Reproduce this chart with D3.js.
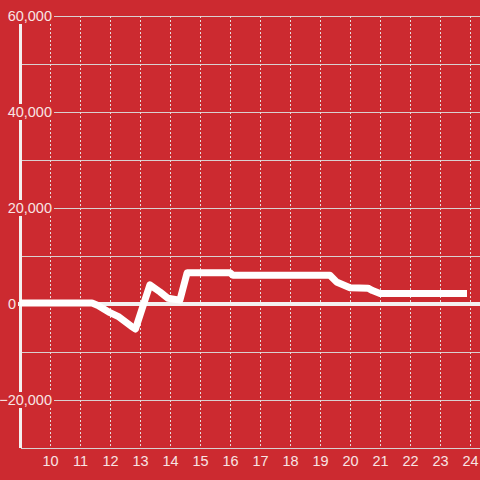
<!DOCTYPE html>
<html>
<head>
<meta charset="utf-8">
<script src="https://cdn.jsdelivr.net/npm/d3@7"></script>
<style>
  html, body { margin: 0; padding: 0; background: #cc2a30; }
  svg { display: block; }
  text { font-family: "Liberation Sans", Arial, sans-serif; }
</style>
</head>
<body>
<svg width="480" height="480"></svg>
<script>
// hour of day
var hours = [9.0, 11.4, 11.6, 12.0, 12.3, 12.7, 12.85, 13.33, 13.67, 13.93, 14.33, 14.57,
             16.0, 16.1, 19.33, 19.55, 20.0, 20.6, 20.75, 21.0, 23.9];
// running value
var values = [200, 200, -300, -1800, -2700, -4600, -5200, 4000, 2500, 1200, 800, 6500,
              6500, 6000, 6000, 4600, 3400, 3300, 2800, 2200, 2200];

var xTicks = [10, 11, 12, 13, 14, 15, 16, 17, 18, 19, 20, 21, 22, 23, 24];
var yTicks = [60000, 40000, 20000, 0, -20000];
var yGrid = [60000, 50000, 40000, 30000, 20000, 10000, -10000, -20000];

var svg = d3.select("svg"),
    width = +svg.attr("width"),
    height = +svg.attr("height");

var x = d3.scaleLinear().domain([9, 24.333]).range([20, 480]);
var y = d3.scaleLinear().domain([-30000, 60000]).range([448, 16]);

var data = hours.map(function(h, i) { return {h: h, v: values[i]}; });

// horizontal grid
svg.append("g")
    .selectAll("line")
    .data(yGrid)
    .join("line")
    .attr("x1", 21).attr("x2", 480)
    .attr("y1", d => y(d) + 0.5).attr("y2", d => y(d) + 0.5)
    .attr("stroke", "#d9d0d0")
    .attr("stroke-width", 1);

// vertical dashed grid
svg.append("g")
    .selectAll("line")
    .data(xTicks)
    .join("line")
    .attr("x1", d => x(d) + 0.5).attr("x2", d => x(d) + 0.5)
    .attr("y1", y(60000)).attr("y2", y(-30000))
    .attr("stroke", "#e6dcdc")
    .attr("stroke-dasharray", "2,2")
    .attr("stroke-width", 1);

// x axis line
svg.append("line")
    .attr("x1", 21).attr("x2", 480)
    .attr("y1", y(-30000) + 0.5).attr("y2", y(-30000) + 0.5)
    .attr("stroke", "#d9d0d0");

// y axis
svg.append("line")
    .attr("x1", 20.5).attr("x2", 20.5)
    .attr("y1", y(60000)).attr("y2", y(-30000))
    .attr("stroke", "#f4f0f0")
    .attr("stroke-width", 3);

// zero line
svg.append("line")
    .attr("x1", 18).attr("x2", 480)
    .attr("y1", y(0)).attr("y2", y(0))
    .attr("stroke", "#f4f0f0")
    .attr("stroke-width", 4);

// the series
var line = d3.line()
    .x(d => x(d.h))
    .y(d => y(d.v));

svg.append("path")
    .datum(data)
    .attr("fill", "none")
    .attr("stroke", "#ffffff")
    .attr("stroke-width", 7)
    .attr("stroke-linejoin", "round")
    .attr("d", line);

// y labels sit on a red patch over the axis
var yl = svg.append("g")
    .selectAll("g")
    .data(yTicks)
    .join("g")
    .attr("transform", d => "translate(" + (d === 0 ? 16 : 52) + "," + y(d) + ")");

yl.filter(d => d !== 0)
    .append("rect")
    .attr("x", -51).attr("y", -8)
    .attr("width", 53).attr("height", 16)
    .attr("fill", "#cc2a30");

yl.append("text")
    .attr("text-anchor", "end")
    .attr("dy", "0.36em")
    .attr("font-size", 14.5)
    .attr("fill", "#f8e4e4")
    .text(d => d3.format(",")(d));

// x labels
svg.append("g")
    .selectAll("text")
    .data(xTicks)
    .join("text")
    .attr("x", d => x(d) + 0.5)
    .attr("y", 461)
    .attr("dy", "0.36em")
    .attr("text-anchor", "middle")
    .attr("font-size", 14.5)
    .attr("fill", "#f8e4e4")
    .text(d => d);
</script>
</body>
</html>
